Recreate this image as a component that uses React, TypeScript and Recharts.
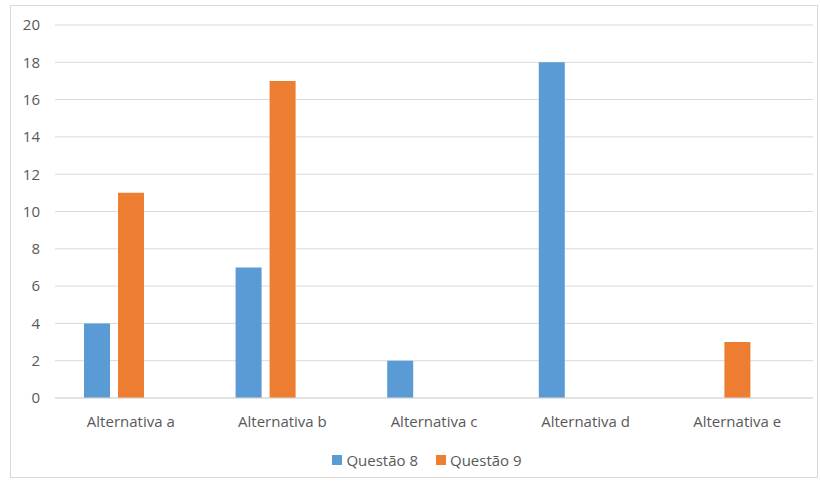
import { BarChart, Bar, XAxis, YAxis, CartesianGrid, Legend } from 'recharts';

const categories = ['Alternativa a', 'Alternativa b', 'Alternativa c', 'Alternativa d', 'Alternativa e'];
const questao8 = [4, 7, 2, 18, null];
const questao9 = [11, 17, null, null, 3];
// Excel reserved a third (empty) slot in each group
const vazio = [null, null, null, null, null];
const yTicks = [0, 2, 4, 6, 8, 10, 12, 14, 16, 18, 20];

const data = categories.map((name, i) => ({
  name,
  q8: questao8[i],
  q9: questao9[i],
  q10: vazio[i],
}));

const font = '"Open Sans", sans-serif';

function LegendContent({ payload }: any) {
  const items = (payload || []).filter((p: any) => p.type !== 'none');
  return (
    <div
      style={{
        display: 'flex',
        justifyContent: 'center',
        gap: 18,
        paddingTop: 12,
        paddingLeft: 41,
        fontFamily: font,
        fontSize: 15,
        color: '#595959',
      }}
    >
      {items.map((p: any) => (
        <div key={p.value} style={{ display: 'flex', alignItems: 'center', gap: 4 }}>
          <span style={{ display: 'inline-block', width: 10, height: 10, background: p.color }} />
          <span>{p.value}</span>
        </div>
      ))}
    </div>
  );
}

export default function App() {
  return (
    <div style={{ position: 'absolute', left: 0, top: 0, width: 820, height: 481, background: '#fff', fontFamily: font }}>
      <div
        style={{
          position: 'absolute',
          left: 10,
          top: 5,
          width: 808,
          height: 473,
          border: '1px solid #d9d9d9',
          boxSizing: 'border-box',
        }}
      />
      <BarChart
        width={820}
        height={481}
        data={data}
        margin={{ top: 25, right: 7, left: 0, bottom: 0 }}
        barSize={26}
        barGap={8}
      >
        <CartesianGrid vertical={false} stroke="#d9d9d9" />
        <XAxis
          dataKey="name"
          height={40}
          axisLine={{ stroke: '#d9d9d9' }}
          tickLine={false}
          tick={{ fill: '#595959', fontSize: 15, fontFamily: font }}
          tickMargin={12}
        />
        <YAxis
          width={55}
          domain={[0, 20]}
          ticks={yTicks}
          axisLine={false}
          tickLine={false}
          tick={{ fill: '#595959', fontSize: 15, fontFamily: font }}
          tickMargin={9}
        />
        <Legend verticalAlign="bottom" height={43} content={<LegendContent />} />
        <Bar dataKey="q8" name="Questão 8" fill="#5b9bd5" isAnimationActive={false} />
        <Bar dataKey="q9" name="Questão 9" fill="#ed7d31" isAnimationActive={false} />
        <Bar dataKey="q10" name="" fill="#a5a5a5" legendType="none" isAnimationActive={false} />
      </BarChart>
    </div>
  );
}
